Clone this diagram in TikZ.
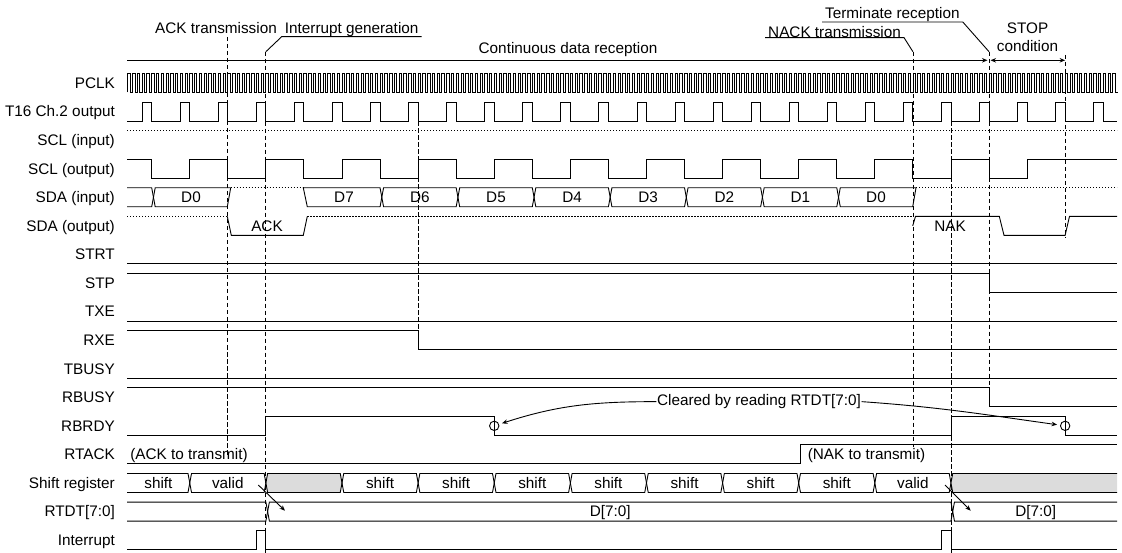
\documentclass[tikz,border=0pt]{standalone}
\usepackage{fontspec}
\setmainfont{Liberation Sans}
\usepackage{tikz}
\usetikzlibrary{positioning, calc, arrows.meta}

\definecolor{regfill}{HTML}{DCDCDC}
\tikzset{
    sig/.style={line width=0.9pt},
    hiz/.style={line width=0.9pt, dash pattern=on 1.2pt off 1.8pt},
    guide/.style={line width=0.8pt, dash pattern=on 4.5pt off 2.5pt},
    lbl/.style={anchor=base east, inner sep=0pt},
    val/.style={anchor=base, inner sep=0pt},
    note/.style={anchor=base west, inner xsep=3pt, inner ysep=0pt},
    tip/.style={-{Stealth[length=5.5pt,width=4.5pt]}},
    tips/.style={{Stealth[length=5.5pt,width=4.5pt]}-{Stealth[length=5.5pt,width=4.5pt]}},
    clrmark/.style={circle, draw, line width=0.9pt, minimum size=9.4pt, inner sep=0pt},
}

\begin{document}
\begin{tikzpicture}[x=1pt, y=-1pt, font=\fontsize{15.3}{18}\selectfont,
    declare function={tk(\k)=151.7+38.06*\k; rc(\i)=83+28.57*\i; hy(\i)=rc(\i)-9.5; ly(\i)=rc(\i)+9.5;}]
    \useasboundingbox (0,0) rectangle (1122,553);

    % Signal names
    \foreach \name [count=\i from 0] in {PCLK, T16 Ch.2 output, SCL (input), SCL (output), SDA (input), SDA (output), STRT, STP, TXE, RXE, TBUSY, RBUSY, RBRDY, RTACK, Shift register, {RTDT[7:0]}, Interrupt}
        \node[lbl] (name\i) at (115, {rc(\i)+5.3}) {\name};

    % Phases
    \node[val] (ackt) at (216, 33.3) {ACK transmission};
    \node[note] (intg) at (281.7, 33.3) {Interrupt generation};
    \node[note] (nackt) at (765, 37.3) {NACK transmission};
    \node[note] (term) at (822, 18.6) {Terminate reception};
    \node[val] (cont) at (568, 53.5) {Continuous data reception};
    \node[val] (stop) at (1027.5, 33.3) {STOP};
    \node[val] (cond) at (1027.5, 51.7) {condition};
    \coordinate (g3) at ({tk(3)}, 51.7);
    \coordinate (g20) at ({tk(20)}, 51.7);
    \coordinate (g22) at ({tk(22)}, 51.7);
    \draw[sig] (intg.south east) -- (intg.south west) -- (g3);
    \draw[sig] (nackt.south west) -- (nackt.south east) -- (g20);
    \draw[sig] (term.south west) -- (term.south east) -- (g22);
    \draw[sig, tip] (127, 60.3) -- (987.5, 60.3);
    \draw[sig, tips] (990.5, 60.3) -- ({tk(24)}, 60.3);

    % Guide lines
    \draw[guide] ({tk(2)}, 37) -- ({tk(2)}, 455);
    \draw[guide] (g3) -- ({tk(3)}, 553);
    \draw[guide] ({tk(7)}, {ly(1)}) -- ({tk(7)}, {hy(9)});
    \draw[guide] (g20) -- ({tk(20)}, 447);
    \draw[guide] ({tk(21)}, {ly(1)}) -- ({tk(21)}, 553);
    \draw[guide] (g22) -- ({tk(22)}, {ly(11)});
    \draw[guide] ({tk(24)}, 55) -- ({tk(24)}, 238);

    % PCLK
    \draw[sig] (127.9, {ly(0)}) \foreach \n in {1,...,208}{ -- ++(0,-19) -- ++(2.379,0) -- ++(0,19) -- ++(2.379,0) };

    % T16 Ch.2 output
    \draw[sig] (127, {ly(1)}) \foreach \k in {0,...,25}{ -- ({tk(\k)-9.5}, {ly(1)}) |- ({tk(\k)}, {hy(1)}) -- ({tk(\k)}, {ly(1)}) } -- (1117, {ly(1)});

    % SCL
    \draw[hiz] (127, {hy(2)}) -- (1117, {hy(2)});
    \draw[sig] (127, {hy(3)}) \foreach \k in {0,2,...,22}{ -| ({tk(\k)}, {ly(3)}) -| ({tk(\k+1)}, {hy(3)}) } -- (1117, {hy(3)});

    % SDA (input)
    \draw[sig] (127, {hy(4)}) -- ({tk(0)}, {hy(4)}) -- ({tk(0)+1.75}, {rc(4)}) -- ({tk(0)}, {ly(4)}) -- (127, {ly(4)});
    \draw[sig] ({tk(0)+1.75}, {rc(4)}) -- ({tk(0)+3.5}, {hy(4)}) -- (230.7, {hy(4)}) -- (227.3, {ly(4)}) -- ({tk(0)+3.5}, {ly(4)}) -- cycle;
    \node[val] (sdain0) at (191, {rc(4)+5.3}) {D0};
    \draw[hiz] (230.7, {hy(4)}) -- (303.3, {hy(4)});
    \draw[sig] (303.3, {hy(4)}) -- ({tk(6)}, {hy(4)}) -- ({tk(6)+1.75}, {rc(4)}) -- ({tk(6)}, {ly(4)}) -- (307.3, {ly(4)}) -- cycle;
    \node[val] (sdain7) at (344, {rc(4)+5.3}) {D7};
    \foreach \a/\t in {6/D6, 8/D5, 10/D4, 12/D3, 14/D2, 16/D1}{
        \draw[sig] ({tk(\a)+1.75}, {rc(4)}) -- ({tk(\a)+3.5}, {hy(4)}) -- ({tk(\a+2)}, {hy(4)}) -- ({tk(\a+2)+1.75}, {rc(4)}) -- ({tk(\a+2)}, {ly(4)}) -- ({tk(\a)+3.5}, {ly(4)}) -- cycle;
        \node[val] (sdain\t) at ({tk(\a)+39.8}, {rc(4)+5.3}) {\t};
    }
    \draw[sig] ({tk(18)+1.75}, {rc(4)}) -- ({tk(18)+3.5}, {hy(4)}) -- (916, {hy(4)}) -- (912.7, {ly(4)}) -- ({tk(18)+3.5}, {ly(4)}) -- cycle;
    \node[val] (sdainlast) at (876, {rc(4)+5.3}) {D0};
    \draw[hiz] (916, {hy(4)}) -- (1117, {hy(4)});

    % SDA (output)
    \draw[hiz] (127, {hy(5)}) -- (227.3, {hy(5)});
    \draw[sig] (227.3, {hy(5)}) -- (231.3, {ly(5)}) -- (303.3, {ly(5)}) -- (307.3, {hy(5)});
    \draw[hiz] (307.3, {hy(5)}) -- (912.7, {hy(5)});
    \draw[sig] (912.7, {rc(5)}) -- (915.5, {hy(5)}) -- (999.3, {hy(5)}) -- (1004, {ly(5)}) -- (1065.1, {ly(5)}) -- (1069.5, {hy(5)}) -- (1117, {hy(5)});
    \node[val] (ack) at (267, {rc(5)+5.3}) {ACK};
    \node[val] (nak) at (950, {rc(5)+5.3}) {NAK};

    % Status flags
    \draw[sig] (127, {ly(6)}) -- (1117, {ly(6)});
    \draw[sig] (127, {hy(7)}) -| ({tk(22)}, {ly(7)}) -- (1117, {ly(7)});
    \draw[sig] (127, {ly(8)}) -- (1117, {ly(8)});
    \draw[sig] (127, {hy(9)}) -| ({tk(7)}, {ly(9)}) -- (1117, {ly(9)});
    \draw[sig] (127, {ly(10)}) -- (1117, {ly(10)});
    \draw[sig] (127, {hy(11)}) -| ({tk(22)}, {ly(11)}) -- (1117, {ly(11)});
    \draw[sig] (127, {ly(12)}) -| ({tk(3)}, {hy(12)}) -| ({tk(9)}, {ly(12)}) -| ({tk(21)}, {hy(12)}) -| ({tk(24)}, {ly(12)}) -- (1117, {ly(12)});
    \node[clrmark] (clr1) at ({tk(9)}, {rc(12)}) {};
    \node[clrmark] (clr2) at ({tk(24)}, {rc(12)}) {};
    \node[val, inner xsep=0.5pt] (clrtxt) at (759, 405.6) {Cleared by reading RTDT[7:0]};
    \draw[sig, tip, shorten >=3pt] (clrtxt.west) to[out=180, in=18] (clr1);
    \draw[sig, tip, shorten >=3pt] (clrtxt.east) to[out=-4, in=172] (clr2);
    \draw[sig] (127, {ly(13)}) -| (800.7, {hy(13)}) -- (1117, {hy(13)});
    \node[val] (acktx) at (189, {rc(13)+5.3}) {(ACK to transmit)};
    \node[val] (naktx) at (866.5, {rc(13)+5.3}) {(NAK to transmit)};

    % Shift register
    \draw[sig] (127, {hy(14)}) -- ({tk(1)-1.75}, {hy(14)}) -- ({tk(1)}, {rc(14)}) -- ({tk(1)-1.75}, {ly(14)}) -- (127, {ly(14)});
    \node[val] (sr0) at (158.4, {rc(14)+5.3}) {shift};
    \filldraw[sig, fill=regfill] ({tk(3)}, {rc(14)}) -- ({tk(3)+1.75}, {hy(14)}) -- ({tk(5)-1.75}, {hy(14)}) -- ({tk(5)}, {rc(14)}) -- ({tk(5)-1.75}, {ly(14)}) -- ({tk(3)+1.75}, {ly(14)}) -- cycle;
    \foreach \a/\t in {1/valid, 5/shift, 7/shift, 9/shift, 11/shift, 13/shift, 15/shift, 17/shift, 19/valid}{
        \draw[sig] ({tk(\a)}, {rc(14)}) -- ({tk(\a)+1.75}, {hy(14)}) -- ({tk(\a+2)-1.75}, {hy(14)}) -- ({tk(\a+2)}, {rc(14)}) -- ({tk(\a+2)-1.75}, {ly(14)}) -- ({tk(\a)+1.75}, {ly(14)}) -- cycle;
        \node[val] (sr\a) at ({tk(\a)+38.06}, {rc(14)+5.3}) {\t};
    }
    \fill[regfill] ({tk(21)}, {rc(14)}) -- ({tk(21)+1.75}, {hy(14)}) -- (1117, {hy(14)}) -- (1117, {ly(14)}) -- ({tk(21)+1.75}, {ly(14)}) -- cycle;
    \draw[sig] (1117, {hy(14)}) -- ({tk(21)+1.75}, {hy(14)}) -- ({tk(21)}, {rc(14)}) -- ({tk(21)+1.75}, {ly(14)}) -- (1117, {ly(14)});

    % RTDT[7:0]
    \draw[sig] (127, {hy(15)}) -- ({tk(3)}, {hy(15)}) -- ({tk(3)+1.75}, {rc(15)}) -- ({tk(3)}, {ly(15)}) -- (127, {ly(15)});
    \draw[sig] ({tk(3)+1.75}, {rc(15)}) -- ({tk(3)+3.5}, {hy(15)}) -- ({tk(21)}, {hy(15)}) -- ({tk(21)+1.75}, {rc(15)}) -- ({tk(21)}, {ly(15)}) -- ({tk(3)+3.5}, {ly(15)}) -- cycle;
    \draw[sig] (1117, {hy(15)}) -- ({tk(21)+3.5}, {hy(15)}) -- ({tk(21)+1.75}, {rc(15)}) -- ({tk(21)+3.5}, {ly(15)}) -- (1117, {ly(15)});
    \node[val] (rtdt1) at (610.2, {rc(15)+5.3}) {D[7:0]};
    \node[val] (rtdt2) at (1035.7, {rc(15)+5.3}) {D[7:0]};
    \coordinate (ld1) at (258.3, 485);
    \coordinate (st1) at (285, 510.7);
    \coordinate (ld2) at (945, 485);
    \coordinate (st2) at (970.7, 510.7);
    \draw[sig, tip] (ld1) -- (st1);
    \draw[sig, tip] (ld2) -- (st2);

    % Interrupt
    \draw[sig] (127, {ly(16)}) -| ({tk(3)-9.5}, {hy(16)}) -| ({tk(3)}, {ly(16)}) -| ({tk(21)-9.5}, {hy(16)}) -| ({tk(21)}, {ly(16)}) -- (1117, {ly(16)});
\end{tikzpicture}
\end{document}
